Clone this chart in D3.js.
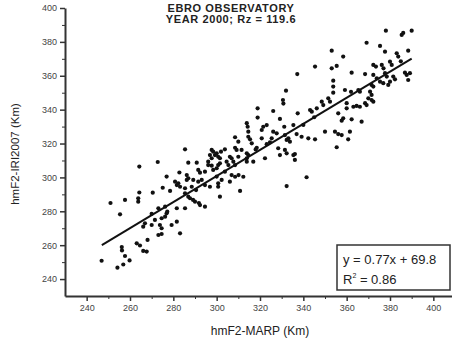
<!DOCTYPE html>
<html>
<head>
<meta charset="utf-8">
<script src="https://cdn.jsdelivr.net/npm/d3@7"></script>
<style>
  body { margin: 0; background: #fff; }
  svg { display: block; font-family: Arial, "Liberation Sans", sans-serif; }
  .axis path, .axis line { stroke: #333; }
  .axis text { fill: #444; font-size: 9px; }
</style>
</head>
<body>
<div id="chart"></div>
<script>
// hmF2-MARP (x) vs hmF2-IRI2007 (y), km
var marp = [
  246.9, 254.2, 256.9, 259.8, 257.7, 256.2, 256.3, 263.1, 264.6, 266.1,
  268.1, 273.1, 283.1, 270.0, 266.9, 266.1, 273.8, 274.6, 279.2, 281.6,
  271.5, 274.6, 276.2, 276.9, 277.2, 273.1, 276.2, 281.6, 285.4, 287.7,
  290.0, 289.1, 255.4, 251.0, 257.7, 263.8, 263.8, 264.3, 270.5, 275.1,
  278.5, 282.3, 283.1, 280.8, 281.6, 286.2, 276.9, 282.8, 286.9, 290.8,
  272.8, 264.3, 285.4, 292.3, 296.1, 267.7, 274.6,
  286.2, 286.9, 289.2, 291.5, 293.1, 294.6, 296.9, 300.7, 300.7, 302.3,
  306.1, 285.4, 288.5, 285.4, 286.9, 291.8, 292.3, 294.6, 301.5, 310.8,
  291.5, 294.6, 298.4, 300.0, 303.8, 306.9, 308.5, 310.1, 312.3, 296.1,
  297.7, 300.7, 301.5, 304.6, 305.4, 307.7, 308.5, 313.9, 313.9, 316.9,
  297.7, 298.4, 299.2, 300.0, 300.7, 301.5, 302.0, 296.9, 297.7, 306.1,
  306.9, 310.0, 322.3, 329.2, 328.4, 331.5, 332.3, 335.4, 303.8, 308.5,
  309.2, 311.5, 313.9, 314.6, 318.5, 308.5, 314.6, 315.4, 320.8, 325.4,
  333.1, 310.0, 316.2, 323.1, 324.6, 313.9, 314.3, 321.5, 323.1, 331.2,
  314.6, 320.8, 326.1, 327.7, 331.5, 318.9, 326.1, 330.6, 330.8, 318.9,
  329.2, 332.0, 337.2, 345.4, 337.4, 332.3, 341.5, 336.1, 336.1, 332.3,
  333.8, 336.9, 339.2, 342.3, 345.4, 335.4, 343.1, 343.9, 346.2,
  348.5, 349.2, 351.5, 352.3, 353.8, 353.8, 353.8, 353.1, 355.4, 353.1,
  358.4, 362.3, 368.5, 369.2, 375.4, 377.7, 378.1, 385.4, 386.1, 390.0,
  383.1, 383.8, 388.4, 372.3, 373.5, 376.2, 377.0, 380.0, 380.8, 372.3,
  373.9, 377.7, 378.5, 381.5, 382.3, 386.9, 387.7, 389.2, 388.4, 375.4,
  376.9, 379.2, 380.0, 371.5, 372.3, 359.2, 365.4, 366.1, 370.8, 371.5,
  370.0, 371.5, 372.3, 360.0, 360.0, 363.1, 364.6, 366.1, 368.5, 369.2,
  358.4, 362.3, 366.9, 356.1, 357.7, 350.0, 354.6, 356.1, 357.7, 361.5,
  360.7, 355.4,
  340.0, 345.0, 318.0, 300.0, 290.5, 270.0, 385.0, 362.0
];
var iri = [
  250.8, 246.7, 248.6, 251.0, 253.6, 258.9, 256.9, 261.1, 259.8, 256.6,
  263.1, 266.0, 267.0, 271.9, 272.9, 270.9, 271.9, 270.0, 271.9, 273.9,
  274.9, 275.9, 276.8, 278.8, 279.8, 281.8, 282.7, 281.8, 281.8, 287.7,
  285.7, 286.7, 278.2, 284.9, 286.7, 287.7, 285.7, 291.1, 291.0, 293.9,
  292.0, 296.5, 294.5, 297.5, 295.5, 298.5, 300.5, 302.9, 308.7, 308.7,
  309.1, 306.4, 316.6, 302.8, 307.3, 256.2, 266.6,
  301.4, 299.5, 298.5, 297.5, 298.5, 295.5, 294.5, 296.5, 294.5, 298.5,
  297.5, 293.6, 294.5, 290.6, 288.6, 284.9, 283.7, 282.7, 288.6, 292.0,
  304.4, 303.4, 304.4, 305.4, 303.4, 301.4, 300.4, 301.4, 300.4, 309.3,
  306.9, 307.3, 308.3, 309.3, 307.3, 309.3, 307.3, 311.3, 309.3, 309.3,
  316.2, 315.2, 313.2, 314.2, 312.2, 311.3, 315.2, 313.2, 311.3, 312.2,
  311.3, 312.2, 311.3, 313.2, 317.2, 316.2, 314.2, 313.2, 316.6, 317.5,
  316.2, 316.2, 314.2, 313.2, 317.5, 323.7, 324.0, 322.5, 323.1, 323.1,
  323.1, 321.1, 320.1, 319.6, 320.7, 332.0, 329.9, 329.9, 330.9, 329.9,
  327.0, 328.0, 327.0, 326.0, 325.0, 340.8, 339.2, 345.7, 343.6, 335.3,
  334.5, 351.2, 361.0, 365.4, 337.8, 294.9, 300.1, 313.8, 310.3, 322.1,
  321.1, 325.6, 324.0, 323.1, 322.5, 330.9, 339.8, 338.8, 340.8,
  344.7, 342.7, 346.7, 344.7, 357.1, 353.6, 350.0, 364.4, 365.8, 374.8,
  371.3, 361.8, 361.0, 379.5, 377.6, 374.2, 386.6, 384.1, 385.3, 386.6,
  373.3, 371.3, 374.8, 366.4, 365.4, 366.4, 364.4, 368.3, 366.4, 360.5,
  358.5, 361.5, 359.5, 359.5, 357.9, 361.8, 360.5, 361.5, 357.5, 356.5,
  355.6, 354.6, 356.5, 354.6, 353.6, 351.6, 351.6, 350.6, 350.6, 348.7,
  346.7, 345.7, 344.7, 343.8, 340.8, 341.7, 342.2, 341.7, 343.8, 342.7,
  334.9, 334.3, 332.9, 337.8, 333.5, 327.0, 327.0, 325.6, 325.0, 327.0,
  322.5, 317.8,
  331.0, 335.5, 316.5, 300.5, 292.5, 278.5, 368.5, 350.5
];

var xTicks = [240, 260, 280, 300, 320, 340, 360, 380, 400];
var yTicks = [240, 260, 280, 300, 320, 340, 360, 380, 400];
var titleLines = ["EBRO OBSERVATORY", "YEAR 2000; Rz = 119.6"];
var fitSlope = 0.77, fitIntercept = 69.8, fitR2 = 0.86;
var fitRange = [247, 390];

var width = 452, height = 340;
var margin = { top: 8, right: 0, bottom: 44, left: 65 };

var x = d3.scaleLinear().domain([230, 410]).range([margin.left, margin.left + 390]);
var y = d3.scaleLinear().domain([230, 400]).range([height - margin.bottom, margin.top]);

var svg = d3.select("#chart").append("svg")
    .attr("width", width)
    .attr("height", height);

// minor ticks first, then the labelled ones
var xMinor = d3.range(250, 410, 20);
var yMinor = d3.range(250, 400, 20);

svg.append("g")
    .attr("class", "axis")
    .attr("transform", "translate(0," + y(230) + ")")
    .call(d3.axisBottom(x).tickValues(xMinor).tickSize(3).tickFormat(""))
    .select(".domain").remove();

svg.append("g")
    .attr("class", "axis")
    .attr("transform", "translate(" + x(230) + ",0)")
    .call(d3.axisLeft(y).tickValues(yMinor).tickSize(3).tickFormat(""))
    .select(".domain").remove();

var xAxis = svg.append("g")
    .attr("class", "axis")
    .attr("transform", "translate(0," + y(230) + ")")
    .call(d3.axisBottom(x).tickValues(xTicks).tickSize(5).tickSizeOuter(0).tickPadding(4));
xAxis.select(".domain").attr("stroke-width", 2);
xAxis.selectAll(".tick line").attr("stroke-width", 1.5);

var yAxis = svg.append("g")
    .attr("class", "axis")
    .attr("transform", "translate(" + x(230) + ",0)")
    .call(d3.axisLeft(y).tickValues(yTicks).tickSize(5).tickSizeOuter(0).tickPadding(3));
yAxis.select(".domain").attr("stroke-width", 2);
yAxis.selectAll(".tick line").attr("stroke-width", 1.5);

// points
svg.append("g").selectAll("circle")
    .data(marp.map(function (d, i) { return [d, iri[i]]; }))
    .enter().append("circle")
    .attr("cx", function (d) { return x(d[0]); })
    .attr("cy", function (d) { return y(d[1]); })
    .attr("r", 2.1)
    .attr("fill", "#111");

// regression line
svg.append("line")
    .attr("x1", x(fitRange[0]))
    .attr("y1", y(fitSlope * fitRange[0] + fitIntercept))
    .attr("x2", x(fitRange[1]))
    .attr("y2", y(fitSlope * fitRange[1] + fitIntercept))
    .attr("stroke", "#111")
    .attr("stroke-width", 2);

// title
svg.append("g").selectAll("text")
    .data(titleLines)
    .enter().append("text")
    .attr("x", 231)
    .attr("y", function (d, i) { return 12 + i * 11; })
    .attr("text-anchor", "middle")
    .attr("font-size", "11px")
    .attr("font-weight", "bold")
    .attr("letter-spacing", "0.6px")
    .attr("fill", "#222")
    .text(function (d) { return d; });

// axis labels
svg.append("text")
    .attr("x", 260)
    .attr("y", 335)
    .attr("text-anchor", "middle")
    .attr("font-size", "12px")
    .attr("fill", "#222")
    .text("hmF2-MARP (Km)");

svg.append("text")
    .attr("transform", "translate(19,154) rotate(-90)")
    .attr("text-anchor", "middle")
    .attr("font-size", "11.5px")
    .attr("fill", "#222")
    .text("hmF2-IRI2007 (Km)");

// fit box
var box = svg.append("g").attr("transform", "translate(337,245)");
box.append("rect")
    .attr("width", 113).attr("height", 45)
    .attr("fill", "#fff")
    .attr("stroke", "#333")
    .attr("stroke-width", 1.5);
box.append("text")
    .attr("x", 6).attr("y", 19)
    .attr("font-size", "13px").attr("fill", "#222")
    .text("y = " + fitSlope + "x + " + fitIntercept);
var r2 = box.append("text")
    .attr("x", 6).attr("y", 39)
    .attr("font-size", "13px").attr("fill", "#222");
r2.append("tspan").text("R");
r2.append("tspan").attr("font-size", "7px").attr("dy", -6).text("2");
r2.append("tspan").attr("dy", 6).text(" = " + fitR2.toFixed(2));
</script>
</body>
</html>
